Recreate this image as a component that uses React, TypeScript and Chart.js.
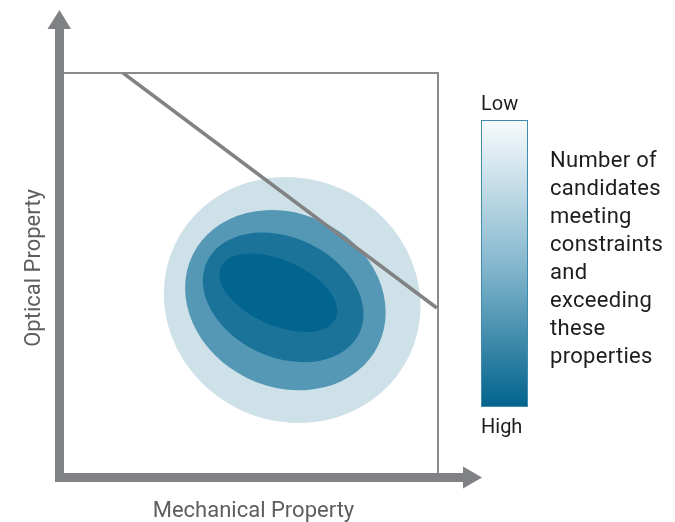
import React, { useEffect, useRef } from "react";
import { Chart, registerables } from "chart.js";

Chart.register(...registerables);

// Frontier line (data units: x 0..100, y 0..100)
const frontierX = [15.8, 99.7];
const frontierY = [100, 41.25];

// Density contours, outermost first
const contourLevels = ["Level 1", "Level 2", "Level 3", "Level 4"];
const contourCenterX = [61.0, 59.2, 58.6, 57.3];
const contourCenterY = [43.25, 43.2, 43.9, 45.05];
const contourSemiMajor = [34.7, 27.6, 22.5, 16.8];
const contourSemiMinor = [32.5, 23.2, 16.0, 8.7];
const contourTiltDeg = [25, 26, 25, 24];
const contourColors = ["#cee1e8", "#5498b6", "#1b7399", "#02658f"];

// Texts
const xAxisTitle = "Mechanical Property";
const yAxisTitle = "Optical Property";
const scaleLowLabel = "Low";
const scaleHighLabel = "High";
const legendLines = [
  "Number of",
  "candidates",
  "meeting",
  "constraints",
  "and",
  "exceeding",
  "these",
  "properties",
];

const AXIS_GRAY = "#808184";
const BOX_GRAY = "#8b8b8f";
const FONT = "Roboto, 'DejaVu Sans', sans-serif";

const decorPlugin = {
  id: "decor",
  beforeDatasetsDraw(chart: any) {
    const { ctx, chartArea, scales } = chart;
    const xs = scales.x;
    const ys = scales.y;
    const pxPerUnit = Math.abs(xs.getPixelForValue(1) - xs.getPixelForValue(0));
    ctx.save();
    contourLevels.forEach((_, i) => {
      const cx = xs.getPixelForValue(contourCenterX[i]);
      const cy = ys.getPixelForValue(contourCenterY[i]);
      ctx.beginPath();
      ctx.ellipse(
        cx,
        cy,
        contourSemiMajor[i] * pxPerUnit,
        contourSemiMinor[i] * pxPerUnit,
        (contourTiltDeg[i] * Math.PI) / 180,
        0,
        Math.PI * 2
      );
      ctx.fillStyle = contourColors[i];
      ctx.fill();
    });
    // box (top and right edges)
    ctx.strokeStyle = BOX_GRAY;
    ctx.lineWidth = 2;
    ctx.beginPath();
    ctx.moveTo(chartArea.left, chartArea.top);
    ctx.lineTo(chartArea.right, chartArea.top);
    ctx.lineTo(chartArea.right, chartArea.bottom);
    ctx.stroke();
    ctx.restore();
  },
  afterDatasetsDraw(chart: any) {
    const { ctx, chartArea } = chart;
    const L = chartArea.left;
    const B = chartArea.bottom;
    ctx.save();
    ctx.fillStyle = AXIS_GRAY;
    // y axis bar + arrow
    ctx.fillRect(L - 9, 29, 9, B + 9 - 29);
    ctx.beginPath();
    ctx.moveTo(L - 16.5, 29);
    ctx.lineTo(L + 7, 29);
    ctx.lineTo(L - 4.5, 10);
    ctx.closePath();
    ctx.fill();
    // x axis bar + arrow
    ctx.fillRect(L - 9, B, 463 - (L - 9), 9);
    ctx.beginPath();
    ctx.moveTo(463, B - 6.5);
    ctx.lineTo(463, B + 15.5);
    ctx.lineTo(482, B + 4.5);
    ctx.closePath();
    ctx.fill();

    // axis titles
    ctx.fillStyle = "#5d5e61";
    ctx.font = `22px ${FONT}`;
    ctx.textAlign = "center";
    ctx.textBaseline = "alphabetic";
    ctx.fillText(xAxisTitle, 253.5, 517);
    ctx.save();
    ctx.translate(39.5, 268);
    ctx.rotate(-Math.PI / 2);
    ctx.fillText(yAxisTitle, 0, 0);
    ctx.restore();

    // colour scale bar
    const barL = 481, barT = 120, barR = 528, barB = 407;
    const g = ctx.createLinearGradient(0, barT, 0, barB);
    g.addColorStop(0, "#f8fbfc");
    g.addColorStop(0.5, "#86b8ce");
    g.addColorStop(1, "#02638d");
    ctx.fillStyle = g;
    ctx.fillRect(barL, barT, barR - barL, barB - barT);
    ctx.strokeStyle = "#3f8bae";
    ctx.lineWidth = 1;
    ctx.strokeRect(barL + 0.5, barT + 0.5, barR - barL - 1, barB - barT - 1);

    ctx.fillStyle = "#1d1d1b";
    ctx.textAlign = "left";
    ctx.font = `20px ${FONT}`;
    ctx.fillText(scaleLowLabel, 481, 110);
    ctx.fillText(scaleHighLabel, 481, 433);

    ctx.font = `22px ${FONT}`;
    (ctx as any).letterSpacing = "0.3px";
    legendLines.forEach((line, i) => {
      ctx.fillText(line, 550, 167 + i * 28);
    });
    (ctx as any).letterSpacing = "0px";
    ctx.restore();
  },
};

export default function App() {
  const canvasRef = useRef<HTMLCanvasElement | null>(null);

  useEffect(() => {
    const canvas = canvasRef.current;
    if (!canvas) return;
    const chart = new Chart(canvas, {
      type: "scatter",
      data: {
        datasets: [
          {
            label: "Frontier",
            data: frontierX.map((x, i) => ({ x, y: frontierY[i] })),
            showLine: true,
            borderColor: "#828285",
            borderWidth: 3.5,
            pointRadius: 0,
            fill: false,
          },
        ],
      },
      options: {
        responsive: false,
        maintainAspectRatio: false,
        animation: false,
        layout: { padding: { left: 64, top: 73, right: 237, bottom: 49 } },
        plugins: {
          legend: { display: false },
          tooltip: { enabled: false },
        },
        scales: {
          x: { type: "linear", min: 0, max: 100, display: false },
          y: { type: "linear", min: 0, max: 100, display: false },
        },
      },
      plugins: [decorPlugin],
    });
    return () => chart.destroy();
  }, []);

  return (
    <div style={{ position: "absolute", left: 0, top: 0, width: 675, height: 522, background: "#fff" }}>
      <canvas ref={canvasRef} width={675} height={522} style={{ display: "block" }} />
    </div>
  );
}
